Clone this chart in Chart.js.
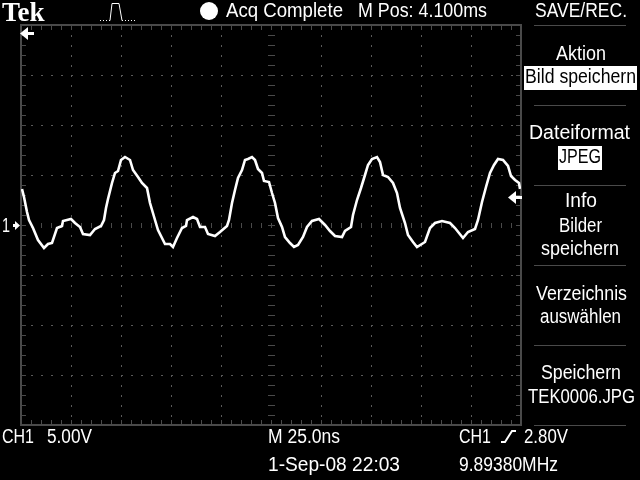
<!DOCTYPE html>
<html lang="de">
<head>
  <meta charset="UTF-8">
  <title>TEK0006</title>
  <script src="https://cdn.jsdelivr.net/npm/chart.js@4"></script>
  <style>
    html, body { margin: 0; background: #000; overflow: hidden; }
    canvas { display: block; }
  </style>
</head>
<body>
  <canvas id="scope" width="640" height="480"></canvas>
  <script>
    // CH1 trace: 25 ns/div, 5 V/div
    const timeNs = [0.5,1.5,3,4,6,8.5,11.5,13.5,15.5,18,20.5,21,25,27,29.5,31,34.5,37,40,41.5,42.5,43.5,45.5,47,48.5,50,52,54.5,56,58.5,60.5,63,64.5,67,68.5,72,74.5,76,78,80.5,82.5,83,86,88,89.5,92,93.5,97,99.5,103,104,105.5,107,108.5,110.5,112,113.5,115.5,117,118.5,120.5,121.5,124,125.5,127,128.5,130.5,132,134.5,136.5,138.5,141,143,145.5,149,152,154.5,157,160.5,162,165,166,168,170,172,173.5,175.5,178,179.5,181,183.5,186,188,189.5,192,193.5,196,198,202,204.5,207,210.5,214.5,217,221,223.5,227,228.5,230.5,232.5,234.5,236.5,238.5,241,243.5,245,247,249,249.5];
    const ch1Volts = [3.6,2.8,1.3,0.5,-0.3,-1.5,-2.3,-1.9,-1.8,-0.3,-0.1,0.4,0.6,0.2,-0.2,-0.9,-1.0,-0.4,-0.1,0.5,1.7,2.6,4.2,5.2,5.4,6.5,6.8,6.5,5.5,4.8,4.2,3.7,2.2,0.5,-0.5,-1.9,-1.9,-2.2,-1.3,-0.3,-0.1,0.5,0.8,0.6,-0.2,-0.2,-0.9,-1.1,-0.7,-0.1,0.5,2.2,3.5,4.7,5.5,6.5,6.6,6.8,6.5,5.6,5.2,4.4,4.3,3.2,2.2,0.7,-0.2,-1.2,-1.8,-2.2,-2.0,-1.2,-0.2,0.4,0.6,0,-0.6,-1.1,-1.2,-0.6,-0.2,1.0,2.5,3.7,5.0,6.0,6.6,6.8,6.3,5.0,4.8,4.2,3.2,1.7,0.2,-1.0,-1.7,-2.2,-1.7,-0.3,0.2,0.4,0.2,-0.3,-1.3,-0.7,-0.4,0.5,2.3,3.8,5.2,6.0,6.6,6.5,5.9,4.9,4.5,4.2,3.6];
    const triggerVolts = 2.8;
    const timeDivs = [0,25,50,75,100,125,150,175,200,225,250];
    const voltDivs = [-20,-15,-10,-5,0,5,10,15,20];

    const FRAME = '#4a4a4a';
    const DOT = '#5a5a5a';
    const FONT = '"Liberation Sans", sans-serif';

    // text, x, baseline, width
    const labels = [
      ['Acq Complete', 226, 17, 117],
      ['M Pos: 4.100ms', 358, 17, 129],
      ['SAVE/REC.', 535, 17, 92],
      ['Aktion', 556, 60, 50],
      ['Dateiformat', 529, 139, 101],
      ['Info', 565, 207, 32],
      ['Bilder', 559, 232, 43],
      ['speichern', 541, 255, 78],
      ['Verzeichnis', 536, 300, 91],
      ['auswählen', 540, 323, 81],
      ['Speichern', 541, 379, 80],
      ['TEK0006.JPG', 528, 403, 107],
      ['CH1', 2, 443, 32],
      ['5.00V', 47, 443, 45],
      ['M 25.0ns', 268, 443, 72],
      ['CH1', 459, 443, 32],
      ['2.80V', 524, 443, 44],
      ['1-Sep-08 22:03', 268, 471, 132],
      ['9.89380MHz', 459, 471, 99],
      ['1', 2, 232, 8]
    ];
    const inverted = [
      ['Bild speichern', 524, 66, 113, 24, 83],
      ['JPEG', 558, 146, 44, 24, 163]
    ];
    const menuRules = [25, 105, 185, 265, 345, 425];

    function leftArrow(ctx, x, y, len) {
      ctx.fillStyle = '#fff';
      ctx.beginPath();
      ctx.moveTo(x, y + 0.5);
      ctx.lineTo(x + 8, y - 6);
      ctx.lineTo(x + 8, y + 7);
      ctx.closePath();
      ctx.fill();
      ctx.fillRect(x + 5, y - 1, len - 5, 3);
    }

    const graticule = {
      id: 'graticule',
      beforeDatasetsDraw(chart) {
        const { ctx, scales: { x, y } } = chart;
        const left = x.getPixelForValue(0), right = x.getPixelForValue(250);
        const top = y.getPixelForValue(20), bottom = y.getPixelForValue(-20);
        const midX = x.getPixelForValue(125), midY = y.getPixelForValue(0);
        ctx.save();

        // dotted divisions, 5 steps per div
        ctx.fillStyle = DOT;
        for (const t of timeDivs.slice(1, -1)) {
          const px = x.getPixelForValue(t);
          if (px === midX) continue;
          for (let py = top + 10; py < bottom; py += 10) ctx.fillRect(px, py, 1, 2);
        }
        for (const v of voltDivs.slice(1, -1)) {
          const py = y.getPixelForValue(v);
          if (py === midY) continue;
          for (let px = left + 10; px < right; px += 10) ctx.fillRect(px, py, 2, 1);
        }

        // centre cross and edge ticks
        ctx.fillStyle = FRAME;
        for (let py = top + 10; py < bottom; py += 10) {
          ctx.fillRect(midX - 3, py, 7, 1);
          ctx.fillRect(left + 1, py, 4, 1);
          ctx.fillRect(right - 5, py, 4, 1);
        }
        for (let px = left + 10; px < right; px += 10) {
          ctx.fillRect(px, midY - 2, 1, 5);
          ctx.fillRect(px, top + 1, 1, 4);
          ctx.fillRect(px, bottom - 5, 1, 4);
        }

        // frame
        ctx.fillRect(left - 1, top - 1, right - left + 2, 2);
        ctx.fillRect(left - 1, bottom - 1, right - left + 2, 2);
        ctx.fillRect(left - 1, top - 1, 2, bottom - top + 2);
        ctx.fillRect(right - 1, top - 1, 2, bottom - top + 2);
        ctx.restore();
      },
      afterDatasetsDraw(chart) {
        const { ctx, scales: { x, y } } = chart;
        ctx.save();
        ctx.textBaseline = 'alphabetic';

        ctx.fillStyle = '#fff';
        ctx.font = 'bold 27px "Liberation Serif", serif';
        ctx.fillText('Tek', 2, 21, 46);

        ctx.font = '20px ' + FONT;
        for (const [text, px, py, w] of labels) ctx.fillText(text, px, py, w);

        for (const [text, bx, by, bw, bh, base] of inverted) {
          ctx.fillStyle = '#fff';
          ctx.fillRect(bx, by, bw, bh);
          ctx.fillStyle = '#000';
          ctx.fillText(text, bx + 1, base, bw - 2);
        }

        // menu separators
        ctx.fillStyle = FRAME;
        for (const py of menuRules) ctx.fillRect(534, py, 92, 1);

        // acquisition dot
        ctx.fillStyle = '#fff';
        ctx.beginPath();
        ctx.arc(209, 11, 9, 0, Math.PI * 2);
        ctx.fill();

        // trigger status pulse, dotted at the low level
        ctx.strokeStyle = '#fff';
        ctx.lineWidth = 1;
        ctx.setLineDash([1, 2]);
        ctx.beginPath();
        ctx.moveTo(100, 20.5);
        ctx.lineTo(111, 20.5);
        ctx.moveTo(122, 20.5);
        ctx.lineTo(136, 20.5);
        ctx.stroke();
        ctx.setLineDash([]);
        ctx.beginPath();
        ctx.moveTo(110, 20.5);
        ctx.lineTo(112, 3.5);
        ctx.lineTo(119, 3.5);
        ctx.lineTo(122, 20.5);
        ctx.stroke();

        // trigger slope
        ctx.lineWidth = 2;
        ctx.beginPath();
        ctx.moveTo(501, 442);
        ctx.lineTo(505, 442);
        ctx.lineTo(512, 431);
        ctx.lineTo(516, 431);
        ctx.stroke();

        // markers
        leftArrow(ctx, x.getPixelForValue(0) - 1, 33, 14);
        leftArrow(ctx, 508, y.getPixelForValue(triggerVolts), 14);
        const zero = y.getPixelForValue(0);
        ctx.fillRect(13, zero - 1, 4, 3);
        ctx.beginPath();
        ctx.moveTo(20, zero + 0.5);
        ctx.lineTo(15, zero - 4);
        ctx.lineTo(15, zero + 5);
        ctx.closePath();
        ctx.fill();
        ctx.restore();
      }
    };

    new Chart(document.getElementById('scope'), {
      type: 'scatter',
      data: {
        datasets: [{
          label: 'CH1',
          data: timeNs.map((t, i) => ({ x: t, y: ch1Volts[i] })),
          showLine: true,
          borderColor: '#fff',
          borderWidth: 2.6,
          pointRadius: 0,
          tension: 0
        }]
      },
      options: {
        responsive: false,
        animation: false,
        layout: { padding: { left: 21, right: 119, top: 25, bottom: 55 } },
        plugins: { legend: { display: false }, tooltip: { enabled: false } },
        scales: {
          x: { type: 'linear', min: 0, max: 250, display: false },
          y: { type: 'linear', min: -20, max: 20, display: false }
        }
      },
      plugins: [
        { id: 'bg', beforeDraw(c) { c.ctx.fillStyle = '#000'; c.ctx.fillRect(0, 0, 640, 480); } },
        graticule
      ]
    });
  </script>
</body>
</html>
